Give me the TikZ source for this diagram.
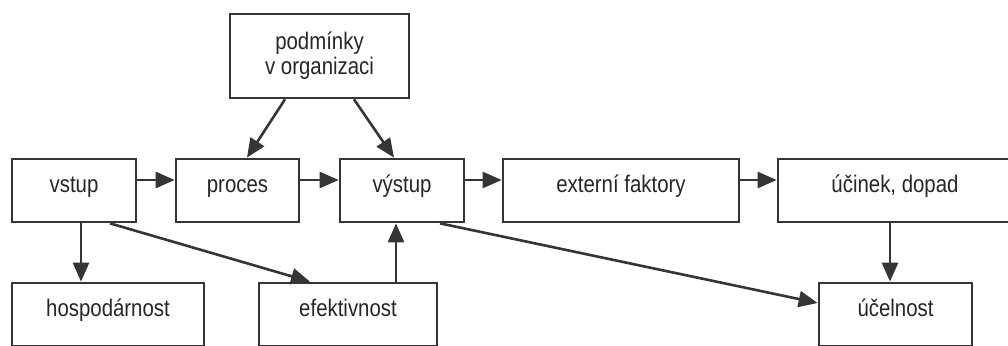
\documentclass[tikz,border=0pt]{standalone}
\usepackage{fontspec}
\newfontfamily\lfont[FakeStretch=0.85]{Liberation Sans}
\usetikzlibrary{arrows.meta}
\definecolor{ln}{HTML}{353535}
\definecolor{tx}{HTML}{262626}
\begin{document}
\begin{tikzpicture}[x=1pt,y=-1pt,
  box/.style={draw=ln, line width=2.7pt, fill=white, inner sep=0pt, minimum height=63pt,
    text=tx, font=\lfont\fontsize{24}{25}\selectfont},
  one/.style={text height=12pt, text depth=9pt},
  arr/.style={draw=ln, line width=2.6pt, -{Triangle[length=19pt,width=16pt]}, fill=ln}]
\useasboundingbox (0,0) rectangle (1008,345);
\clip (0,0) rectangle (1008,345);
\fill[white] (0,0) rectangle (1008,345);
\node[box, minimum width=179pt, minimum height=84pt, align=center] (podm) at (319.5,56) {podmínky\\v organizaci};
\node[box, one, minimum width=124pt] (vstup) at (74,190.5) {vstup};
\node[box, one, minimum width=123pt] (proces) at (237.5,190.5) {proces};
\node[box, one, minimum width=124pt] (vystup) at (402,190.5) {výstup};
\node[box, one, minimum width=236pt] (ext) at (621,190.5) {externí faktory};
\node[box, one, minimum width=234pt] (ucinek) at (895,190.5) {účinek, dopad};
\node[box, one, minimum width=192pt] (hosp) at (108,314.5) {hospodárnost};
\node[box, one, minimum width=178pt] (efekt) at (348,314.5) {efektivnost};
\node[box, one, minimum width=153pt] (ucel) at (895.5,314.5) {účelnost};
\draw[arr] ([xshift=-34.5pt]podm.south) -- ([xshift=9.5pt]proces.north);
\draw[arr] ([xshift=34.5pt]podm.south) -- ([xshift=-8pt]vystup.north);
\draw[arr] ([yshift=10.5pt]vstup.east) -- ([yshift=10.5pt]proces.west);
\draw[arr] ([yshift=10.5pt]proces.east) -- ([yshift=10.5pt]vystup.west);
\draw[arr] ([yshift=10.5pt]vystup.east) -- ([yshift=10.5pt]ext.west);
\draw[arr] ([yshift=10.5pt]ext.east) -- ([yshift=10.5pt]ucinek.west);
\draw[arr] ([xshift=7pt]vstup.south) -- ([xshift=-27pt]hosp.north);
\draw[arr] ([xshift=36pt]vstup.south) -- ([xshift=-38pt]efekt.north);
\draw[arr] ([xshift=48pt]efekt.north) -- ([xshift=-6pt]vystup.south);
\draw[arr] ([xshift=38pt]vystup.south) -- ([yshift=11.5pt]ucel.west);
\draw[arr] ([xshift=-5pt]ucinek.south) -- ([xshift=-5.5pt]ucel.north);
\end{tikzpicture}
\end{document}
